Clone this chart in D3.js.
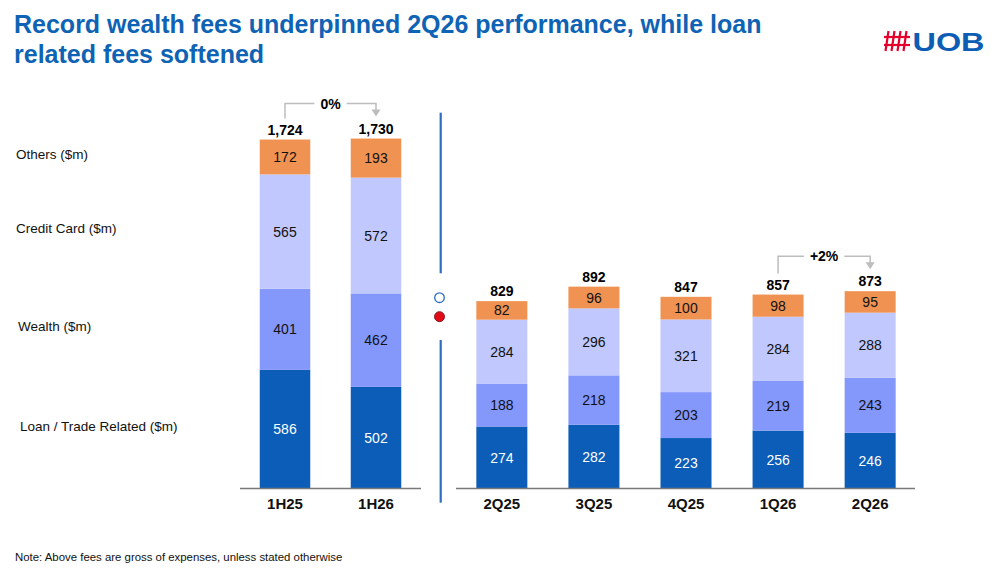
<!DOCTYPE html>
<html><head><meta charset="utf-8">
<script src="https://cdn.jsdelivr.net/npm/d3@7"></script>
<style>body{margin:0;background:#fff} svg{font-family:"Liberation Sans",Arial,sans-serif;display:block}</style>
</head><body><svg id="c" width="1000" height="576"></svg>
<script>
// ---- data ----
const halfCats = ["1H25", "1H26"];
const qtrCats = ["2Q25", "3Q25", "4Q25", "1Q26", "2Q26"];
const seriesKeys = ["loan", "wealth", "card", "others"];
const seriesNames = ["Loan / Trade Related ($m)", "Wealth ($m)", "Credit Card ($m)", "Others ($m)"];
const halfLoan = [586, 502];
const halfWealth = [401, 462];
const halfCard = [565, 572];
const halfOthers = [172, 193];
const halfTotals = [1724, 1730];
const qtrLoan = [274, 282, 223, 256, 246];
const qtrWealth = [188, 218, 203, 219, 243];
const qtrCard = [284, 296, 321, 284, 288];
const qtrOthers = [82, 96, 100, 98, 95];
const qtrTotals = [829, 892, 847, 857, 873];
const halfChange = "0%";
const qtrChange = "+2%";
const titleLines = ["Record wealth fees underpinned 2Q26 performance, while loan", "related fees softened"];
const noteText = "Note: Above fees are gross of expenses, unless stated otherwise";

// ---- style ----
const colors = {loan: "#0B5DB8", wealth: "#8497FB", card: "#C0C8FD", others: "#EF9252"};
const textColors = {loan: "#ffffff", wealth: "#111", card: "#111", others: "#111"};
const svg = d3.select("#c");
const baseY = 488.5;

function rows(cats, loan, wealth, card, others, totals) {
  return cats.map((c, i) => ({cat: c, loan: loan[i], wealth: wealth[i], card: card[i], others: others[i], total: totals[i]}));
}
const halfData = rows(halfCats, halfLoan, halfWealth, halfCard, halfOthers, halfTotals);
const qtrData = rows(qtrCats, qtrLoan, qtrWealth, qtrCard, qtrOthers, qtrTotals);

const xL = d3.scaleBand().domain(halfCats).range([240, 421]).paddingInner(0.445).paddingOuter(0.217);
const yL = d3.scaleLinear().domain([0, 1000]).range([baseY, baseY - 202.4]);
const xR = d3.scaleBand().domain(qtrCats).range([457, 915]).paddingInner(0.446).paddingOuter(0.21);
const yR = d3.scaleLinear().domain([0, 1000]).range([baseY, baseY - 226.3]);

const stack = d3.stack().keys(seriesKeys);

function panel(data, x, y, axisRange, change) {
  const g = svg.append("g");
  const st = stack(data);
  st.forEach(layer => {
    const k = layer.key;
    g.selectAll(null).data(layer).join("rect")
      .attr("x", d => x(d.data.cat)).attr("width", x.bandwidth())
      .attr("y", d => y(d[1])).attr("height", d => y(d[0]) - y(d[1]))
      .attr("fill", colors[k]);
    g.selectAll(null).data(layer).join("text")
      .attr("x", d => x(d.data.cat) + x.bandwidth() / 2)
      .attr("y", d => (y(d[0]) + y(d[1])) / 2)
      .attr("dy", "0.36em").attr("text-anchor", "middle")
      .attr("font-size", 14).attr("fill", textColors[k])
      .text(d => d.data[k]);
  });
  const top = st[st.length - 1];
  g.selectAll(null).data(top).join("text")
    .attr("x", d => x(d.data.cat) + x.bandwidth() / 2)
    .attr("y", d => y(d[1]) - 10)
    .attr("dy", "0.36em").attr("text-anchor", "middle")
    .attr("font-size", 14).attr("font-weight", "bold").attr("fill", "#000")
    .text(d => d3.format(",")(d.data.total));
  // axis
  g.append("line").attr("x1", axisRange[0]).attr("x2", axisRange[1]).attr("y1", baseY).attr("y2", baseY)
    .attr("stroke", "#7a7a7a").attr("stroke-width", 1.6);
  g.selectAll(null).data(data).join("text")
    .attr("x", d => x(d.cat) + x.bandwidth() / 2).attr("y", 504).attr("dy", "0.36em")
    .attr("text-anchor", "middle").attr("font-size", 15).attr("font-weight", "bold").attr("fill", "#111")
    .text(d => d.cat);
  // change bracket between last two bars
  const a = top[top.length - 2], b = top[top.length - 1];
  const xa = x(a.data.cat) + x.bandwidth() / 2, xb = x(b.data.cat) + x.bandwidth() / 2;
  const hy = Math.min(y(a[1]), y(b[1])) - 35;
  const mid = (xa + xb) / 2;
  const t = g.append("text").attr("x", mid).attr("y", hy).attr("dy", "0.36em").attr("text-anchor", "middle")
    .attr("font-size", 14).attr("font-weight", "bold").attr("fill", "#000").text(change);
  const half = t.node().getComputedTextLength() / 2 + 6;
  const ya = y(a[1]) - 21, yb = y(b[1]) - 22;
  g.append("path").attr("d", `M${xa},${ya}V${hy}H${mid - half}M${mid + half},${hy}H${xb}V${yb - 6}`)
    .attr("fill", "none").attr("stroke", "#bdbdbd").attr("stroke-width", 1.5);
  g.append("path").attr("d", `M${xb - 4.5},${yb - 7}L${xb + 4.5},${yb - 7}L${xb},${yb}Z`).attr("fill", "#bdbdbd");
}
panel(halfData, xL, yL, [240, 421], halfChange);
panel(qtrData, xR, yR, [456, 915], qtrChange);

// series labels at left, aligned with first bar's segments
const firstStack = stack(halfData);
const labelX = [20, 18, 16, 16];
firstStack.forEach((layer, i) => {
  svg.append("text").attr("x", labelX[i]).attr("y", (yL(layer[0][0]) + yL(layer[0][1])) / 2 - 3)
    .attr("dy", "0.36em").attr("font-size", 13.5).attr("fill", "#111").text(seriesNames[i]);
});

// separator
const sepX = 440.7, sepC = "#2D6EC2";
svg.append("line").attr("x1", sepX).attr("x2", sepX).attr("y1", 112.7).attr("y2", 273.3).attr("stroke", sepC).attr("stroke-width", 2.2);
svg.append("line").attr("x1", sepX).attr("x2", sepX).attr("y1", 340).attr("y2", 502.7).attr("stroke", sepC).attr("stroke-width", 2.2);
svg.append("circle").attr("cx", 439.5).attr("cy", 297.7).attr("r", 4.8).attr("fill", "#fff").attr("stroke", sepC).attr("stroke-width", 1.3);
svg.append("circle").attr("cx", 439.5).attr("cy", 316.7).attr("r", 5).attr("fill", "#E30A17").attr("stroke", "#8a1a22").attr("stroke-width", 1);

// title
titleLines.forEach((l, i) => {
  svg.append("text").attr("x", 14).attr("y", 33 + i * 30).attr("font-size", 25).attr("font-weight", "bold")
    .attr("fill", "#0E63B4").text(l);
});
// note
svg.append("text").attr("x", 15).attr("y", 557).attr("dy", "0.36em").attr("font-size", 11.4).attr("fill", "#111").text(noteText);

// logo
const lg = svg.append("g").attr("stroke", "#E4002B").attr("stroke-width", 2.2);
[887, 893, 899, 905].forEach(xx => lg.append("line").attr("x1", xx + 1.5).attr("x2", xx - 1.5).attr("y1", 31).attr("y2", 51));
[37, 45].forEach(yy => lg.append("line").attr("x1", 884).attr("x2", 910).attr("y1", yy).attr("y2", yy));
svg.append("text").attr("x", 912.5).attr("y", 50.5).attr("font-size", 26).attr("font-weight", "bold")
  .attr("fill", "#0E5DB4").attr("textLength", 72).attr("lengthAdjust", "spacingAndGlyphs").text("UOB");
</script></body></html>
